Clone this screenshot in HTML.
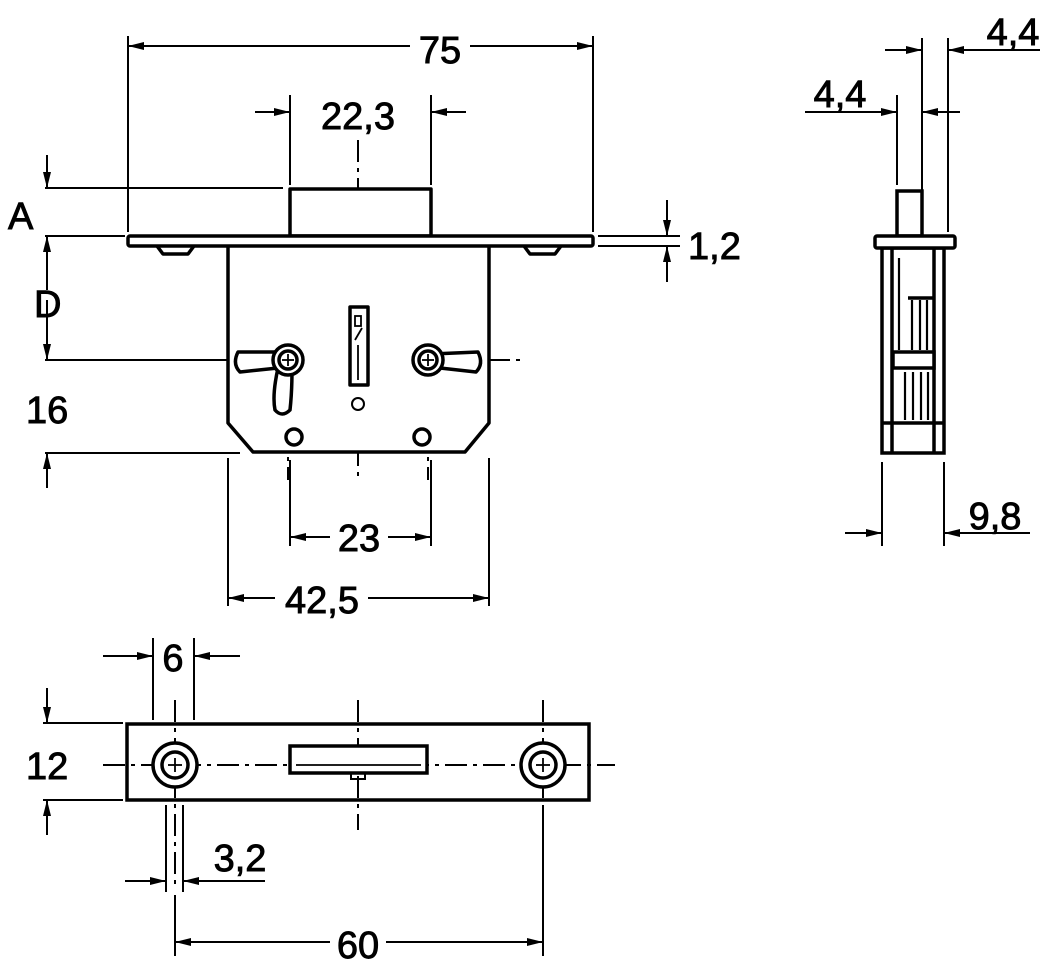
<!DOCTYPE html>
<html><head><meta charset="utf-8"><style>
html,body{margin:0;padding:0;background:#fff}
svg{display:block}
text{font-family:"Liberation Sans",sans-serif;font-size:38px;fill:#000;stroke:#000;stroke-width:0.9}
</style></head><body>
<svg width="1063" height="972" viewBox="0 0 1063 972" xmlns="http://www.w3.org/2000/svg">
<defs>
<marker id="a" viewBox="0 0 16 8" refX="16" refY="4" markerWidth="16" markerHeight="8" markerUnits="userSpaceOnUse" orient="auto"><path d="M0,0 L16,4 L0,8z" fill="#000"/></marker>
</defs>
<g stroke="#000" stroke-width="2" fill="none">
<line x1="128" y1="36" x2="128" y2="232"/><line x1="593" y1="36" x2="593" y2="232"/>
<line x1="410" y1="46" x2="128" y2="46" marker-end="url(#a)"/><line x1="470" y1="46" x2="593" y2="46" marker-end="url(#a)"/>
<line x1="290" y1="95" x2="290" y2="185"/><line x1="431" y1="95" x2="431" y2="185"/>
<line x1="255" y1="112" x2="290" y2="112" marker-end="url(#a)"/><line x1="466" y1="112" x2="431" y2="112" marker-end="url(#a)"/>
<line x1="45" y1="188" x2="283" y2="188"/><line x1="45" y1="236" x2="125" y2="236"/>
<line x1="47" y1="155" x2="47" y2="188" marker-end="url(#a)"/>
<line x1="47" y1="290" x2="47" y2="236" marker-end="url(#a)"/><line x1="47" y1="300" x2="47" y2="360" marker-end="url(#a)"/>
<line x1="45" y1="360" x2="222" y2="360"/><line x1="45" y1="453" x2="240" y2="453"/>
<line x1="47" y1="488" x2="47" y2="453" marker-end="url(#a)"/>
<line x1="598" y1="236" x2="680" y2="236"/><line x1="598" y1="246" x2="680" y2="246"/>
<line x1="667" y1="200" x2="667" y2="236" marker-end="url(#a)"/><line x1="667" y1="282" x2="667" y2="246" marker-end="url(#a)"/>
<line x1="290" y1="460" x2="290" y2="546"/><line x1="431" y1="460" x2="431" y2="546"/>
<line x1="330" y1="537" x2="290" y2="537" marker-end="url(#a)"/><line x1="388" y1="537" x2="431" y2="537" marker-end="url(#a)"/>
<line x1="228" y1="458" x2="228" y2="606"/><line x1="489" y1="458" x2="489" y2="606"/>
<line x1="275" y1="598" x2="228" y2="598" marker-end="url(#a)"/><line x1="368" y1="598" x2="489" y2="598" marker-end="url(#a)"/>
<g stroke-dasharray="22,6,4,6">
<line x1="358" y1="140" x2="358" y2="480"/>
<line x1="288" y1="315" x2="288" y2="480"/><line x1="428" y1="315" x2="428" y2="480"/>
<line x1="222" y1="360" x2="520" y2="360"/>
</g>
</g>
<g stroke="#000" stroke-width="3.5" fill="#fff" stroke-linejoin="round">
<rect x="290" y="189" width="141" height="47"/>
<path d="M157,246 L163,254 L188,254 L194,246"/>
<path d="M524,246 L530,254 L555,254 L561,246"/>
<path d="M228,246 L228,423 L253,452 L465,452 L489,423 L489,246"/>
<rect x="128" y="236" width="465" height="10" rx="2"/>
<path d="M238,352 Q232,364 240,372 L278,368 Q272,395 275,410 Q282,418 290,410 Q292,392 292,370 L292,352 Z"/>
<circle cx="288" cy="360" r="15"/><circle cx="288" cy="360" r="9"/>
<path d="M478,352 Q484,364 476,372 L440,368 L432,354 Z"/>
<circle cx="428" cy="360" r="15"/><circle cx="428" cy="360" r="9"/>
<rect x="350" y="307" width="18" height="78"/>
<circle cx="358" cy="404" r="6" stroke-width="2"/>
<circle cx="294" cy="437" r="8"/><circle cx="422" cy="437" r="8"/>
</g>
<g stroke="#000" stroke-width="1.8" fill="none"><line x1="282" y1="360" x2="294" y2="360"/><line x1="288" y1="354" x2="288" y2="366"/><line x1="422" y1="360" x2="434" y2="360"/><line x1="428" y1="354" x2="428" y2="366"/><rect x="355" y="316" width="6" height="10"/><line x1="362" y1="328" x2="355" y2="340"/><line x1="358" y1="345" x2="358" y2="380"/></g>

<g stroke="#000" stroke-width="2" fill="none">
<line x1="897" y1="95" x2="897" y2="185"/><line x1="922" y1="38" x2="922" y2="190"/><line x1="948" y1="38" x2="948" y2="232"/>
<line x1="885" y1="50" x2="922" y2="50" marker-end="url(#a)"/><line x1="985" y1="50" x2="948" y2="50" marker-end="url(#a)"/><line x1="985" y1="50" x2="1040" y2="50"/>
<line x1="805" y1="112" x2="897" y2="112" marker-end="url(#a)"/><line x1="960" y1="112" x2="922" y2="112" marker-end="url(#a)"/>
<line x1="882" y1="462" x2="882" y2="546"/><line x1="944" y1="462" x2="944" y2="546"/>
<line x1="845" y1="533" x2="882" y2="533" marker-end="url(#a)"/><line x1="985" y1="533" x2="944" y2="533" marker-end="url(#a)"/><line x1="985" y1="533" x2="1030" y2="533"/>
</g>
<g stroke="#000" stroke-width="3.5" fill="#fff">
<rect x="897" y="191" width="25" height="45"/>
<rect x="882" y="248" width="62" height="205"/>
<rect x="875" y="236" width="80" height="12" rx="2"/>
<line x1="892" y1="248" x2="892" y2="453"/><line x1="934" y1="248" x2="934" y2="453"/>
<line x1="882" y1="423" x2="944" y2="423"/>
<rect x="893" y="352" width="41" height="16"/>
<line x1="908" y1="298" x2="934" y2="298"/>
</g>
<g stroke="#000" stroke-width="2.2"><line x1="912" y1="300" x2="912" y2="350"/><line x1="920" y1="300" x2="920" y2="350"/><line x1="927" y1="300" x2="927" y2="350"/><line x1="905" y1="372" x2="905" y2="420"/><line x1="913" y1="372" x2="913" y2="420"/><line x1="921" y1="372" x2="921" y2="420"/><line x1="928" y1="372" x2="928" y2="420"/><line x1="899" y1="258" x2="899" y2="350"/></g>

<g stroke="#000" stroke-width="2" fill="none">
<line x1="153" y1="638" x2="153" y2="720"/><line x1="194" y1="638" x2="194" y2="720"/>
<line x1="103" y1="656" x2="153" y2="656" marker-end="url(#a)"/><line x1="240" y1="656" x2="194" y2="656" marker-end="url(#a)"/>
<line x1="43" y1="723" x2="123" y2="723"/><line x1="43" y1="800" x2="123" y2="800"/>
<line x1="47" y1="688" x2="47" y2="723" marker-end="url(#a)"/><line x1="47" y1="835" x2="47" y2="800" marker-end="url(#a)"/>
<line x1="166" y1="805" x2="166" y2="892"/><line x1="183" y1="805" x2="183" y2="892"/>
<line x1="125" y1="881" x2="166" y2="881" marker-end="url(#a)"/><line x1="220" y1="881" x2="183" y2="881" marker-end="url(#a)"/><line x1="220" y1="881" x2="265" y2="881"/>
<line x1="175" y1="895" x2="175" y2="956"/><line x1="543" y1="805" x2="543" y2="956"/>
<line x1="330" y1="942" x2="175" y2="942" marker-end="url(#a)"/><line x1="386" y1="942" x2="543" y2="942" marker-end="url(#a)"/>
<g stroke-dasharray="22,6,4,6">
<line x1="103" y1="765" x2="615" y2="765"/>
<line x1="358" y1="700" x2="358" y2="830"/>
<line x1="175" y1="700" x2="175" y2="890"/><line x1="543" y1="700" x2="543" y2="800"/>
</g>
</g>
<g stroke="#000" stroke-width="3.5" fill="none">
<rect x="127" y="724" width="462" height="76"/>
<circle cx="175" cy="765" r="22" fill="#fff"/><circle cx="175" cy="765" r="13"/>
<circle cx="543" cy="765" r="22" fill="#fff"/><circle cx="543" cy="765" r="13"/>
<rect x="290" y="746" width="137" height="27" fill="#fff"/>
<rect x="351" y="773" width="14" height="6" stroke-width="2"/>
</g>
<g stroke="#000" stroke-width="1.8"><line x1="296" y1="765" x2="421" y2="765"/><line x1="168" y1="765" x2="182" y2="765"/><line x1="175" y1="758" x2="175" y2="772"/><line x1="536" y1="765" x2="550" y2="765"/><line x1="543" y1="758" x2="543" y2="772"/></g>

<text x="440" y="63" text-anchor="middle">75</text>
<text x="358" y="129" text-anchor="middle">22,3</text>
<text x="8" y="229">A</text>
<text x="34" y="317">D</text>
<text x="26" y="423">16</text>
<text x="688" y="259">1,2</text>
<text x="359" y="551" text-anchor="middle">23</text>
<text x="322" y="613" text-anchor="middle">42,5</text>
<text x="1013" y="45" text-anchor="middle">4,4</text>
<text x="840" y="107" text-anchor="middle">4,4</text>
<text x="995" y="529" text-anchor="middle">9,8</text>
<text x="173" y="671" text-anchor="middle">6</text>
<text x="26" y="779">12</text>
<text x="240" y="871" text-anchor="middle">3,2</text>
<text x="358" y="958" text-anchor="middle">60</text>
</svg>
</body></html>
